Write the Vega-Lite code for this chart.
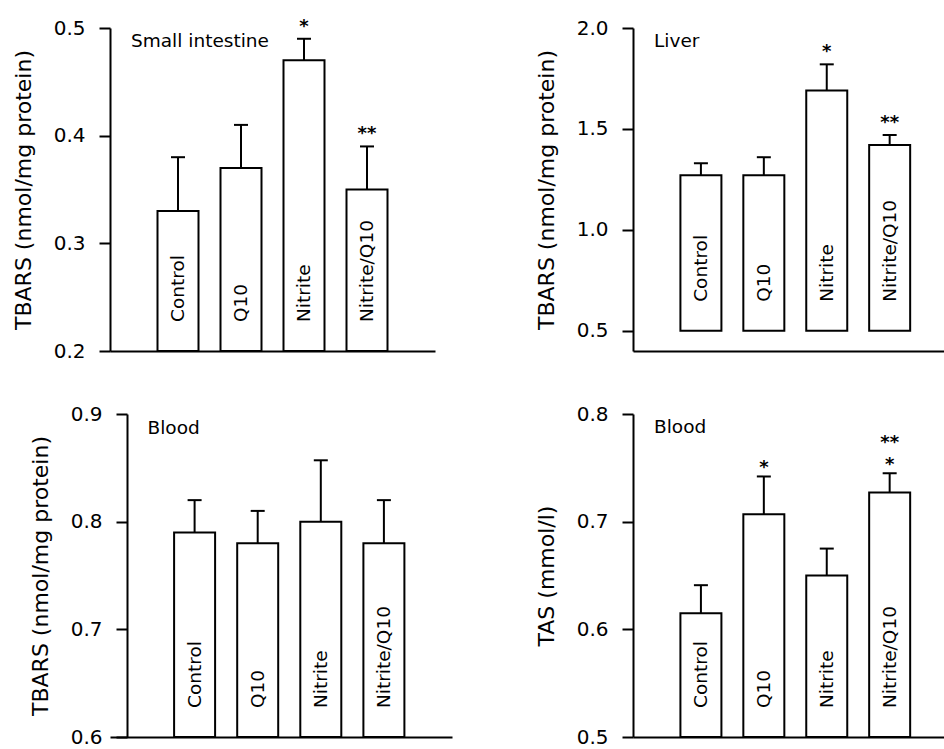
{
  "$schema": "https://vega.github.io/schema/vega-lite/v6.json",
  "padding": {"left": 12, "top": 17, "right": 0, "bottom": 0},
  "columns": 2,
  "spacing": {"row": 43, "column": 83},
  "datasets": {
    "bars": [
      {"panel": "si", "group": "Control", "pos": 1, "mean": 0.33, "err": 0.38, "sig": "", "sig2": "", "plabel": "Small intestine"},
      {"panel": "si", "group": "Q10", "pos": 2, "mean": 0.37, "err": 0.41, "sig": "", "sig2": "", "plabel": ""},
      {"panel": "si", "group": "Nitrite", "pos": 3, "mean": 0.47, "err": 0.49, "sig": "*", "sig2": "", "plabel": ""},
      {"panel": "si", "group": "Nitrite/Q10", "pos": 4, "mean": 0.35, "err": 0.39, "sig": "**", "sig2": "", "plabel": ""},
      {"panel": "liver", "group": "Control", "pos": 1, "mean": 1.27, "err": 1.33, "sig": "", "sig2": "", "plabel": "Liver"},
      {"panel": "liver", "group": "Q10", "pos": 2, "mean": 1.27, "err": 1.36, "sig": "", "sig2": "", "plabel": ""},
      {"panel": "liver", "group": "Nitrite", "pos": 3, "mean": 1.69, "err": 1.82, "sig": "*", "sig2": "", "plabel": ""},
      {"panel": "liver", "group": "Nitrite/Q10", "pos": 4, "mean": 1.42, "err": 1.47, "sig": "**", "sig2": "", "plabel": ""},
      {"panel": "tbars", "group": "Control", "pos": 1, "mean": 0.79, "err": 0.82, "sig": "", "sig2": "", "plabel": "Blood"},
      {"panel": "tbars", "group": "Q10", "pos": 2, "mean": 0.78, "err": 0.81, "sig": "", "sig2": "", "plabel": ""},
      {"panel": "tbars", "group": "Nitrite", "pos": 3, "mean": 0.80, "err": 0.857, "sig": "", "sig2": "", "plabel": ""},
      {"panel": "tbars", "group": "Nitrite/Q10", "pos": 4, "mean": 0.78, "err": 0.82, "sig": "", "sig2": "", "plabel": ""},
      {"panel": "tas", "group": "Control", "pos": 1, "mean": 0.615, "err": 0.641, "sig": "", "sig2": "", "plabel": "Blood"},
      {"panel": "tas", "group": "Q10", "pos": 2, "mean": 0.707, "err": 0.742, "sig": "*", "sig2": "", "plabel": ""},
      {"panel": "tas", "group": "Nitrite", "pos": 3, "mean": 0.65, "err": 0.675, "sig": "", "sig2": "", "plabel": ""},
      {"panel": "tas", "group": "Nitrite/Q10", "pos": 4, "mean": 0.727, "err": 0.745, "sig": "*", "sig2": "**", "plabel": ""}
    ]
  },
  "concat": [
    {
      "width": 325, "height": 323,
      "data": {"name": "bars"},
      "transform": [{"filter": "datum.panel === 'si'"}],
      "encoding": {
        "x": {"field": "pos", "type": "quantitative", "scale": {"domain": [0, 5]}, "axis": {"labels": false, "ticks": false, "title": null}}
      },
      "layer": [
        {"mark": {"type": "bar", "width": 41, "fill": "white", "stroke": "black", "strokeWidth": 2},
         "encoding": {"y": {"field": "mean", "type": "quantitative", "scale": {"domain": [0.2, 0.5]}, "axis": {"values": [0.2, 0.3, 0.4, 0.5], "format": ".1f", "title": "TBARS (nmol/mg protein)"}}, "y2": {"datum": 0.2}}},
        {"mark": {"type": "rule", "color": "black", "strokeWidth": 2},
         "encoding": {"y": {"field": "mean", "type": "quantitative", "scale": {"domain": [0.2, 0.5]}}, "y2": {"field": "err"}}},
        {"mark": {"type": "tick", "orient": "horizontal", "size": 14, "thickness": 2, "color": "black", "opacity": 1},
         "encoding": {"y": {"field": "err", "type": "quantitative", "scale": {"domain": [0.2, 0.5]}}}},
        {"mark": {"type": "text", "angle": 270, "align": "left", "baseline": "middle", "dx": 29, "fontSize": 18.5, "color": "black"},
         "encoding": {"y": {"datum": 0.2}, "text": {"field": "group"}}},
        {"mark": {"type": "text", "baseline": "alphabetic", "dy": -7, "fontSize": 18, "fontWeight": "bold", "color": "black"},
         "encoding": {"y": {"field": "err", "type": "quantitative", "scale": {"domain": [0.2, 0.5]}}, "text": {"field": "sig"}}},
        {"transform": [{"filter": "datum.plabel !== ''"}],
         "mark": {"type": "text", "align": "left", "baseline": "alphabetic", "dx": 16, "dy": 19, "fontSize": 18.5, "color": "black"},
         "encoding": {"x": {"datum": 0}, "y": {"datum": 0.5}, "text": {"field": "plabel"}}}
      ]
    },
    {
      "width": 312, "height": 323,
      "data": {"name": "bars"},
      "transform": [{"filter": "datum.panel === 'liver'"}],
      "encoding": {
        "x": {"field": "pos", "type": "quantitative", "scale": {"domain": [0, 4.8]}, "axis": {"labels": false, "ticks": false, "title": null}}
      },
      "layer": [
        {"mark": {"type": "bar", "width": 41, "fill": "white", "stroke": "black", "strokeWidth": 2},
         "encoding": {"y": {"field": "mean", "type": "quantitative", "scale": {"domain": [0.5, 2.0]}, "axis": {"values": [0.5, 1.0, 1.5, 2.0], "format": ".1f", "title": "TBARS (nmol/mg protein)"}}, "y2": {"datum": 0.5}}},
        {"mark": {"type": "rule", "color": "black", "strokeWidth": 2},
         "encoding": {"y": {"field": "mean", "type": "quantitative", "scale": {"domain": [0.5, 2.0]}}, "y2": {"field": "err"}}},
        {"mark": {"type": "tick", "orient": "horizontal", "size": 14, "thickness": 2, "color": "black", "opacity": 1},
         "encoding": {"y": {"field": "err", "type": "quantitative", "scale": {"domain": [0.5, 2.0]}}}},
        {"mark": {"type": "text", "angle": 270, "align": "left", "baseline": "middle", "dx": 29, "fontSize": 18.5, "color": "black"},
         "encoding": {"y": {"datum": 0.5}, "text": {"field": "group"}}},
        {"mark": {"type": "text", "baseline": "alphabetic", "dy": -7, "fontSize": 18, "fontWeight": "bold", "color": "black"},
         "encoding": {"y": {"field": "err", "type": "quantitative", "scale": {"domain": [0.5, 2.0]}}, "text": {"field": "sig"}}},
        {"transform": [{"filter": "datum.plabel !== ''"}],
         "mark": {"type": "text", "align": "left", "baseline": "alphabetic", "dx": 16, "dy": 19, "fontSize": 18.5, "color": "black"},
         "encoding": {"x": {"datum": 0}, "y": {"datum": 2.0}, "text": {"field": "plabel"}}}
      ]
    },
    {
      "width": 342, "height": 323,
      "data": {"name": "bars"},
      "transform": [{"filter": "datum.panel === 'tbars'"}],
      "encoding": {
        "x": {"field": "pos", "type": "quantitative", "scale": {"domain": [-0.2615, 5]}, "axis": {"labels": false, "ticks": false, "title": null}}
      },
      "layer": [
        {"mark": {"type": "bar", "width": 41, "fill": "white", "stroke": "black", "strokeWidth": 2},
         "encoding": {"y": {"field": "mean", "type": "quantitative", "scale": {"domain": [0.6, 0.9]}, "axis": {"values": [0.6, 0.7, 0.8, 0.9], "format": ".1f", "offset": -17, "title": "TBARS (nmol/mg protein)"}}, "y2": {"datum": 0.6}}},
        {"mark": {"type": "rule", "color": "black", "strokeWidth": 2},
         "encoding": {"y": {"field": "mean", "type": "quantitative", "scale": {"domain": [0.6, 0.9]}}, "y2": {"field": "err"}}},
        {"mark": {"type": "tick", "orient": "horizontal", "size": 14, "thickness": 2, "color": "black", "opacity": 1},
         "encoding": {"y": {"field": "err", "type": "quantitative", "scale": {"domain": [0.6, 0.9]}}}},
        {"mark": {"type": "text", "angle": 270, "align": "left", "baseline": "middle", "dx": 29, "fontSize": 18.5, "color": "black"},
         "encoding": {"y": {"datum": 0.6}, "text": {"field": "group"}}},
        {"transform": [{"filter": "datum.plabel !== ''"}],
         "mark": {"type": "text", "align": "left", "baseline": "alphabetic", "dx": 16, "dy": 20, "fontSize": 18.5, "color": "black"},
         "encoding": {"x": {"datum": 0}, "y": {"datum": 0.9}, "text": {"field": "plabel"}}}
      ]
    },
    {
      "width": 312, "height": 323,
      "data": {"name": "bars"},
      "transform": [{"filter": "datum.panel === 'tas'"}],
      "encoding": {
        "x": {"field": "pos", "type": "quantitative", "scale": {"domain": [0, 4.8]}, "axis": {"labels": false, "ticks": false, "title": null}}
      },
      "layer": [
        {"mark": {"type": "bar", "width": 41, "fill": "white", "stroke": "black", "strokeWidth": 2},
         "encoding": {"y": {"field": "mean", "type": "quantitative", "scale": {"domain": [0.5, 0.8]}, "axis": {"values": [0.5, 0.6, 0.7, 0.8], "format": ".1f", "title": "TAS (mmol/l)"}}, "y2": {"datum": 0.5}}},
        {"mark": {"type": "rule", "color": "black", "strokeWidth": 2},
         "encoding": {"y": {"field": "mean", "type": "quantitative", "scale": {"domain": [0.5, 0.8]}}, "y2": {"field": "err"}}},
        {"mark": {"type": "tick", "orient": "horizontal", "size": 14, "thickness": 2, "color": "black", "opacity": 1},
         "encoding": {"y": {"field": "err", "type": "quantitative", "scale": {"domain": [0.5, 0.8]}}}},
        {"mark": {"type": "text", "angle": 270, "align": "left", "baseline": "middle", "dx": 29, "fontSize": 18.5, "color": "black"},
         "encoding": {"y": {"datum": 0.5}, "text": {"field": "group"}}},
        {"mark": {"type": "text", "baseline": "alphabetic", "dy": -3, "fontSize": 18, "fontWeight": "bold", "color": "black"},
         "encoding": {"y": {"field": "err", "type": "quantitative", "scale": {"domain": [0.5, 0.8]}}, "text": {"field": "sig"}}},
        {"mark": {"type": "text", "baseline": "alphabetic", "dy": -25, "fontSize": 18, "fontWeight": "bold", "color": "black"},
         "encoding": {"y": {"field": "err", "type": "quantitative", "scale": {"domain": [0.5, 0.8]}}, "text": {"field": "sig2"}}},
        {"transform": [{"filter": "datum.plabel !== ''"}],
         "mark": {"type": "text", "align": "left", "baseline": "alphabetic", "dx": 16, "dy": 19, "fontSize": 18.5, "color": "black"},
         "encoding": {"x": {"datum": 0}, "y": {"datum": 0.8}, "text": {"field": "plabel"}}}
      ]
    }
  ],
  "config": {
    "view": {"stroke": null},
    "font": "DejaVu Sans",
    "axis": {
      "grid": false,
      "domainColor": "black",
      "domainWidth": 2,
      "tickColor": "black",
      "tickWidth": 2,
      "tickSize": 11,
      "labelFont": "DejaVu Sans",
      "labelFontSize": 20,
      "labelColor": "black",
      "labelPadding": 14,
      "titleFont": "DejaVu Sans",
      "titleFontSize": 22,
      "titleFontWeight": "normal",
      "titleColor": "black",
      "titlePadding": 18
    }
  }
}
